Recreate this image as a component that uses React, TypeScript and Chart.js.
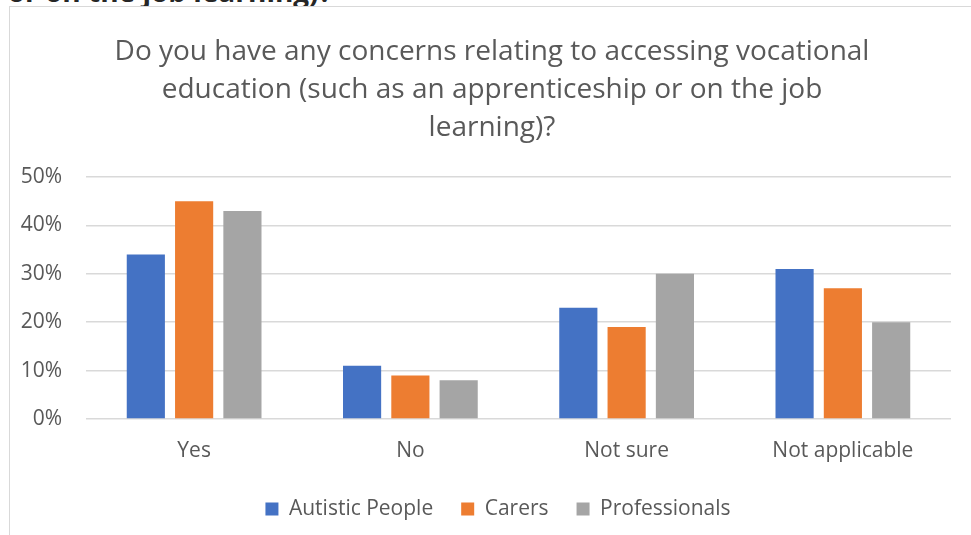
import React, { useEffect, useRef } from "react";
import { Chart, registerables } from "chart.js";

Chart.register(...registerables);

const categories = ["Yes", "No", "Not sure", "Not applicable"];
const autisticPeople = [34, 11, 23, 31];
const carers = [45, 9, 19, 27];
const professionals = [43, 8, 30, 20];
const seriesNames = ["Autistic People", "Carers", "Professionals"];
const seriesColors = ["#4472C4", "#ED7D31", "#A5A5A5"];
const yMax = 50;
const yStep = 10;
const titleLines = [
  "Do you have any concerns relating to accessing vocational",
  "education (such as an apprenticeship or on the job",
  "learning)?",
];
const cutHeading = "(such as an apprenticeship or on the job learning)?";

const FONT = "'Open Sans', sans-serif";

// shifts the centred title / legend boxes so they centre like the reference
const shiftBoxes = {
  id: "shiftBoxes",
  afterLayout(chart: any) {
    if (chart.titleBlock) chart.titleBlock.left = 23;
    if (chart.legend) chart.legend.left = 35;
  },
};

export default function App() {
  const ref = useRef<HTMLCanvasElement | null>(null);

  useEffect(() => {
    if (!ref.current) return;
    const chart = new Chart(ref.current, {
      type: "bar",
      data: {
        labels: categories,
        datasets: [autisticPeople, carers, professionals].map((d, i) => ({
          label: seriesNames[i],
          data: d,
          backgroundColor: seriesColors[i],
          borderWidth: 0,
          categoryPercentage: 0.67,
          barPercentage: 0.79,
        })),
      },
      options: {
        animation: false,
        responsive: false,
        maintainAspectRatio: false,
        layout: { padding: { top: 26, right: 20, left: 0, bottom: 5.5 } },
        plugins: {
          title: {
            display: true,
            text: titleLines,
            color: "#595959",
            font: { family: FONT, size: 28, weight: "normal", lineHeight: 38 / 28 },
            padding: { top: 0, bottom: 30 },
          },
          legend: {
            position: "bottom",
            labels: {
              color: "#595959",
              font: { family: FONT, size: 21 },
              boxWidth: 13,
              boxHeight: 13,
              padding: 28,
            },
          },
          tooltip: { enabled: false },
        },
        scales: {
          x: {
            grid: { display: false },
            border: { display: false },
            ticks: { color: "#595959", font: { family: FONT, size: 21 }, padding: 11.5 },
            afterFit: (s: any) => {
              s.height = 51.5;
            },
          },
          y: {
            min: 0,
            max: yMax,
            border: { display: false },
            grid: { color: "#d9d9d9", lineWidth: 1.5, drawTicks: false },
            ticks: {
              stepSize: yStep,
              color: "#595959",
              font: { family: FONT, size: 21 },
              padding: 24,
              callback: (v: any) => v + "%",
            },
            afterFit: (s: any) => {
              s.width = 76;
            },
          },
        },
      },
      plugins: [shiftBoxes],
    });
    return () => chart.destroy();
  }, []);

  return (
    <div style={{ position: "fixed", inset: 0, overflow: "hidden", background: "#fff" }}>
      <div
        style={{
          position: "absolute",
          left: 0,
          top: -23,
          width: 332,
          height: 40,
          overflow: "hidden",
        }}
      >
        <div
          style={{
            position: "absolute",
            right: 0,
            top: 0,
            whiteSpace: "nowrap",
            fontFamily: FONT,
            fontWeight: "bold",
            fontSize: 28,
            lineHeight: "28px",
            color: "#262626",
          }}
        >
          {cutHeading}
        </div>
      </div>
      <div
        style={{
          position: "absolute",
          left: 9,
          top: 6,
          width: 975,
          height: 540,
          border: "1px solid #d9d9d9",
          background: "#fff",
        }}
      >
        <canvas ref={ref} width={961} height={528} style={{ display: "block" }} />
      </div>
    </div>
  );
}
